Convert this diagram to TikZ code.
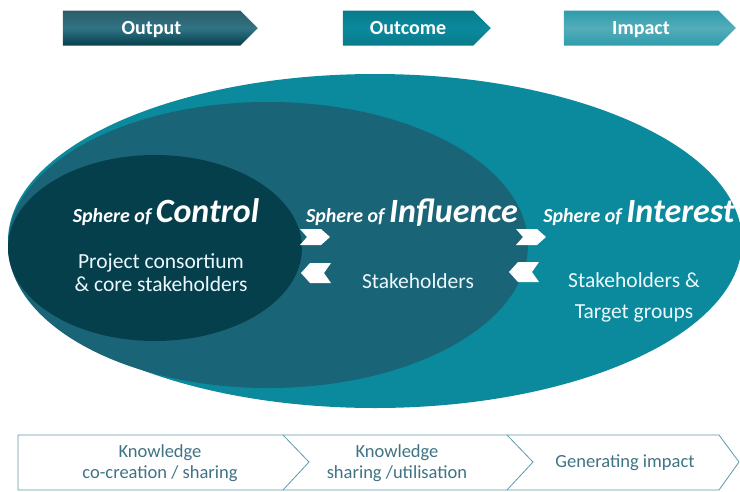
\documentclass[tikz,border=0pt]{standalone}
\usepackage{fontspec}
\setmainfont{Carlito}
\usetikzlibrary{positioning,shapes.geometric,shapes.symbols}

\definecolor{interestcol}{HTML}{0A8A9C}
\definecolor{influencecol}{HTML}{1A6478}
\definecolor{controlcol}{HTML}{063F4C}
\definecolor{stripcol}{HTML}{5B9AAB}
\definecolor{striptext}{HTML}{3F7384}

\begin{document}
\begin{tikzpicture}[x=1pt,y=-1pt,
  sphere/.style={ellipse,inner sep=0pt,draw=none},
  title/.style={text=white,anchor=base,font=\bfseries\itshape},
  body/.style={text=white!92!cyan,align=center,font=\fontsize{21.5}{23}\selectfont},
  stage/.style={signal,signal to=east,signal pointer angle=90,minimum height=35pt,
    inner sep=0pt,text height=13pt,text depth=0pt,text=white,font=\fontsize{20}{22}\selectfont\bfseries},
  striplabel/.style={text=striptext,align=center,font=\fontsize{18.5}{21}\selectfont}]

  \useasboundingbox (0,0) rectangle (740,491);

  % stages on top
  \node [stage,minimum width=195pt,top color=controlcol!85!white,bottom color=controlcol,
    middle color=influencecol!90!white] at (151.5,28) (output) {Output};
  \node [stage,minimum width=148pt,top color=interestcol!80!controlcol,bottom color=interestcol!80!controlcol,
    middle color=interestcol] at (408,28) (outcome) {Outcome};
  \node [stage,minimum width=172pt,top color=interestcol!85!white,bottom color=interestcol!85!white,
    middle color=interestcol!70!white] at (641,28) (impact) {Impact};

  % the three spheres
  \node [sphere,fill=interestcol,minimum width=734pt,minimum height=334pt] at (375,241) (interest) {};
  \node [sphere,fill=influencecol,minimum width=520pt,minimum height=286pt] at (268,245) (influence) {};
  \node [sphere,fill=controlcol,minimum width=294pt,minimum height=186pt] at (155,248) (control) {};

  \node [title] at (166,222) (control_title)
    {\fontsize{20}{22}\selectfont Sphere of \fontsize{34}{36}\selectfont Control};
  \node [title] at (412,222) (influence_title)
    {\fontsize{20}{22}\selectfont Sphere of \fontsize{34}{36}\selectfont Influence};
  \node [title] at (639,222) (interest_title)
    {\fontsize{20}{22}\selectfont Sphere of \fontsize{34}{36}\selectfont Interest};

  \node [body] at (161,273) (control_body) {Project consortium\\\& core stakeholders};
  \node [body] at (418,281) (influence_body) {Stakeholders};
  \node [body,font=\fontsize{21.5}{31}\selectfont] at (634,297) (interest_body) {Stakeholders \&\\Target groups};

  % white chevrons between the spheres
  \foreach \cx/\cy/\d/\h in {315/237/1/8, 531/237/1/8, 316/273/-1/10, 524/272/-1/10}{
    \fill [white,shift={(\cx,\cy)},xscale=\d] (-15,-\h) -- (6,-\h) -- (15,0) -- (6,\h) -- (-15,\h) -- (-8,0) -- cycle;
  }

  % process strip at the bottom
  \draw [stripcol,line width=0.8pt] (18,435) -- (719,435) -- (739,462) -- (719,490) -- (18,490) -- cycle;
  \foreach \sx in {283,507}{
    \draw [stripcol,line width=0.8pt] (\sx,435) -- (\sx+26,462) -- (\sx,490);
  }

  \node [striplabel] at (160,463) (co_creation) {Knowledge\\co-creation / sharing};
  \node [striplabel] at (397,463) (utilisation) {Knowledge\\sharing /utilisation};
  \node [striplabel] at (625,463) (generating) {Generating impact};
\end{tikzpicture}
\end{document}
